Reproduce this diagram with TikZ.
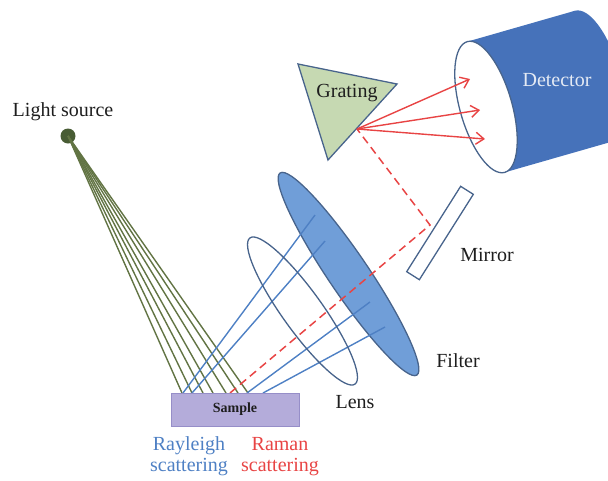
\documentclass[tikz,border=0pt]{standalone}
\usepackage{fontspec}
\setmainfont{Liberation Serif}
\usetikzlibrary{arrows.meta}

\definecolor{inkblack}{RGB}{30,30,30}
\definecolor{raygreen}{RGB}{98,116,68}
\definecolor{srcgreen}{RGB}{72,92,52}
\definecolor{rayblue}{RGB}{78,128,196}
\definecolor{ramanred}{RGB}{232,68,68}
\definecolor{edgeblue}{RGB}{72,100,140}
\definecolor{filterblue}{RGB}{112,158,216}
\definecolor{detblue}{RGB}{70,114,186}
\definecolor{dettext}{RGB}{228,234,244}
\definecolor{gratgreen}{RGB}{198,217,178}
\definecolor{samplefill}{RGB}{180,172,218}
\definecolor{sampleedge}{RGB}{150,142,200}

\tikzset{
  label text/.style={font=\fontsize{20}{21}\selectfont, text=inkblack, align=center},
  green ray/.style={draw=raygreen, line width=1.4pt},
  blue ray/.style={draw=rayblue, line width=1.4pt},
  raman ray/.style={draw=ramanred, line width=1.5pt, dash pattern=on 8pt off 5pt},
  raman arrow/.style={draw=ramanred, line width=1.4pt, -{Straight Barb[length=8pt,width=12pt,line width=1.4pt]}},
  outline/.style={draw=edgeblue, line width=1.3pt},
}

\begin{document}
\begin{tikzpicture}[x=1pt,y=-1pt]
\useasboundingbox (0,0) rectangle (608,480);
\clip (0,0) rectangle (608,480);

% ---------- detector (cylinder, open face towards the grating) ----------
\begin{scope}[shift={(486,107)}, rotate=16]
  \fill[detblue] (0,-68) rectangle (112,68);
  \fill[detblue] (112,0) ellipse [x radius=26, y radius=68];
  \filldraw[fill=white, outline] (0,0) ellipse [x radius=26, y radius=68];
\end{scope}
\node[font=\fontsize{20}{24}\selectfont, text=dettext] (det) at (557,80) {Detector};

% ---------- light source and incident rays ----------
\node[circle, fill=srcgreen, minimum size=15pt, inner sep=0pt] (src) at (68,136) {};
\node[label text] (srclabel) at (63,112) {Light source};

\foreach \i/\x in {1/182,2/192,3/203,4/213,5/226,6/238,7/248}{
  \coordinate (g\i) at (\x,393);
  \draw[green ray] (src.center) -- (g\i);
}

% ---------- lens and filter ----------
\node[label text] (lenslabel) at (355,402) {Lens};
\node[label text] (filterlabel) at (458,361) {Filter};

\filldraw[fill=filterblue, outline] (348.5,274) ellipse [x radius=122, y radius=20, rotate=-55.9];

% ---------- Rayleigh scattered rays ----------
\coordinate (b1s) at (183,393); \coordinate (b1e) at (315,215);
\coordinate (b2s) at (192,393); \coordinate (b2e) at (325,241);
\coordinate (b3s) at (247,393); \coordinate (b3e) at (370,302);
\coordinate (b4s) at (263,393); \coordinate (b4e) at (385,327);
\foreach \i in {1,2,3,4}{
  \draw[blue ray] (b\i s) -- (b\i e);
}

\draw[outline] (302.5,311) ellipse [x radius=90, y radius=20, rotate=-54.3];

% ---------- grating and mirror ----------
\filldraw[fill=gratgreen, outline] (298,64) -- (397,84) -- (328,160) -- cycle;
\node[label text] (gratlabel) at (347,93) {Grating};
\coordinate (gfoot) at (357,129);

\node[draw=edgeblue, line width=1.3pt, fill=white, minimum width=101pt, minimum height=15pt,
      inner sep=0pt, rotate=57.7] (mirror) at (440,233) {};
\node[label text] (mirrorlabel) at (487,255) {Mirror};

% ---------- Raman scattered path ----------
\coordinate (rstart) at (230,393);
\coordinate (rbounce) at (430,225);
\draw[raman ray] (rstart) -- (rbounce) -- (gfoot);

\coordinate (d1) at (470,79);
\coordinate (d2) at (480,110);
\coordinate (d3) at (485,139);
\foreach \i in {1,2,3}{
  \draw[raman arrow] (gfoot) -- (d\i);
}

% ---------- sample ----------
\node[draw=sampleedge, line width=0.8pt, fill=samplefill, minimum width=128pt, minimum height=33pt,
      inner sep=0pt, font=\fontsize{14}{16}\selectfont\bfseries, text=inkblack] (sample) at (235,409.5) {Sample};

\node[label text, text=rayblue] (rayleigh) at (189,456.5) {Rayleigh\\scattering};
\node[label text, text=ramanred] (raman) at (280,456.5) {Raman\\scattering};

\end{tikzpicture}
\end{document}
